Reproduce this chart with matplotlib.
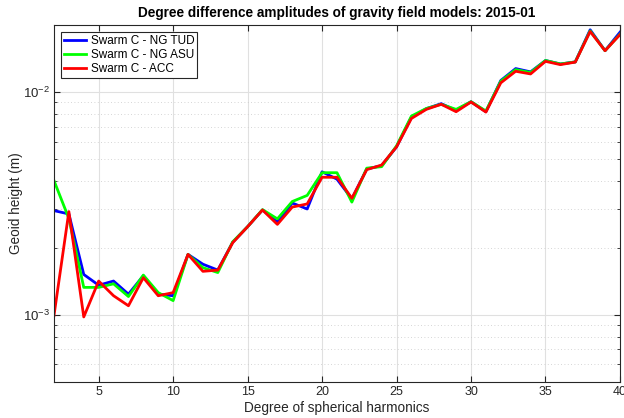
import matplotlib.pyplot as plt
from matplotlib.ticker import LogLocator, NullFormatter

plt.rcParams['font.family'] = ['Liberation Sans', 'DejaVu Sans']

degrees = list(range(2, 41))

ng_tud = [0.00294, 0.00284, 0.00152, 0.00136, 0.00142, 0.00124, 0.00150, 0.00124,
          0.00122, 0.00187, 0.00169, 0.00159, 0.00212, 0.00249, 0.00296, 0.00261,
          0.00318, 0.00299, 0.00439, 0.00407, 0.00332, 0.00452, 0.00468, 0.00568,
          0.00773, 0.00843, 0.00888, 0.00828, 0.00906, 0.00817, 0.01128, 0.01276,
          0.01233, 0.01387, 0.01338, 0.01367, 0.01905, 0.01535, 0.01857]

ng_asu = [0.00401, 0.00271, 0.00133, 0.00133, 0.00138, 0.00121, 0.00151, 0.00126,
          0.00116, 0.00187, 0.00163, 0.00155, 0.00213, 0.00249, 0.00297, 0.00270,
          0.00323, 0.00344, 0.00435, 0.00435, 0.00321, 0.00456, 0.00463, 0.00574,
          0.00781, 0.00845, 0.00882, 0.00837, 0.00906, 0.00823, 0.01120, 0.01262,
          0.01225, 0.01387, 0.01338, 0.01367, 0.01884, 0.01535, 0.01820]

acc = [0.000994, 0.00291, 0.00098, 0.00142, 0.00122, 0.00110, 0.00147, 0.00122,
       0.00126, 0.00187, 0.00157, 0.00159, 0.00211, 0.00249, 0.00296, 0.00255,
       0.00305, 0.00315, 0.00415, 0.00415, 0.00334, 0.00449, 0.00471, 0.00568,
       0.00762, 0.00837, 0.00882, 0.00817, 0.00903, 0.00814, 0.01101, 0.01241,
       0.01207, 0.01375, 0.01329, 0.01364, 0.01871, 0.01535, 0.01811]

fig = plt.figure(figsize=(6.24, 4.18), dpi=100)
ax = fig.add_axes([0.0865, 0.086, 0.907, 0.854])

ax.plot(degrees, ng_tud, color='#0000ff', lw=2, label='Swarm C - NG TUD')
ax.plot(degrees, ng_asu, color='#00ff00', lw=2, label='Swarm C - NG ASU')
ax.plot(degrees, acc, color='#ff0000', lw=2, label='Swarm C - ACC')

ax.set_yscale('log')
ax.set_xlim(2, 40)
ax.set_ylim(5e-4, 2e-2)
ax.set_xticks([5, 10, 15, 20, 25, 30, 35, 40])
ax.yaxis.set_minor_locator(LogLocator(base=10, subs=range(2, 10)))
ax.yaxis.set_minor_formatter(NullFormatter())

ax.grid(True, which='major', color='#e0e0e0', lw=0.8)
ax.grid(True, which='minor', axis='y', color='#c8c8c8', lw=0.6, ls=(0, (1, 3)))
ax.set_axisbelow(True)

ax.tick_params(which='both', direction='in', top=True, right=True,
               labelsize=9, colors='#262626', pad=3)
ax.tick_params(axis='y', labelsize=9.5)
ax.tick_params(which='major', length=4)
ax.tick_params(which='minor', length=2)
for s in ax.spines.values():
    s.set_color('#262626')
    s.set_linewidth(0.8)

ax.set_xlabel('Degree of spherical harmonics', fontsize=9.8, color='#262626', labelpad=2)
ax.set_ylabel('Geoid height (m)', fontsize=9.8, color='#262626', labelpad=0)
ax.set_title('Degree difference amplitudes of gravity field models: 2015-01',
             fontsize=9.8, fontweight='bold', pad=6)

leg = ax.legend(loc='upper left', fontsize=8.5, fancybox=False, framealpha=1,
                edgecolor='#262626', handlelength=1.9, borderaxespad=0.6,
                borderpad=0.25, labelspacing=0.15, handletextpad=0.35)
leg.get_frame().set_linewidth(0.8)

fig.savefig('out.png', dpi=100)
